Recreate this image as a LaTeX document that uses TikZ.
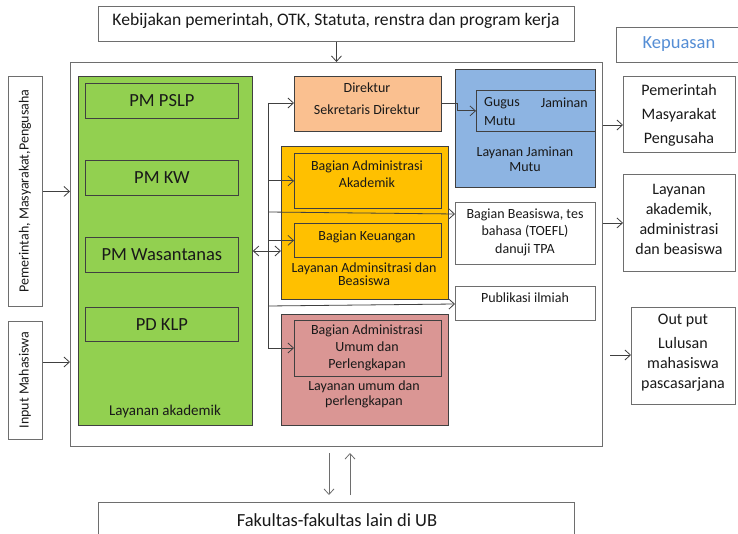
\documentclass[tikz,border=0pt]{standalone}
\usepackage{fontspec}
\setmainfont{Carlito}
\usetikzlibrary{arrows.meta}
\definecolor{cgreen}{RGB}{146,208,80}
\definecolor{cpeach}{RGB}{250,192,144}
\definecolor{cblue}{RGB}{141,180,226}
\definecolor{corange}{RGB}{255,192,0}
\definecolor{cpink}{RGB}{218,150,148}
\definecolor{ckep}{RGB}{85,142,213}
\definecolor{cline}{RGB}{64,64,64}
\definecolor{cgray}{RGB}{110,110,110}
\newcommand{\mybox}[6]{\node[bx,#6,minimum width={(#4-#2)*1pt},minimum height={(#5-#3)*1pt}] (#1) at (#2,#3) {};}
\begin{document}
\begin{tikzpicture}[x=1pt,y=-1pt,
  bx/.style={draw=cline, line width=0.8pt, inner sep=0pt, anchor=north west},
  obx/.style={draw=cgray, line width=0.9pt, inner sep=0pt, anchor=north west},
  txt/.style={inner sep=0pt, align=center, text=black!90},
  big/.style={font=\fontsize{18.5}{21}\selectfont},
  mid/.style={font=\fontsize{16}{24}\selectfont},
  sml/.style={font=\fontsize{14}{17}\selectfont},
  arr/.style={draw=cline, line width=0.8pt, -{Straight Barb[length=5.5pt,width=10pt]}},
  darr/.style={draw=cline, line width=0.8pt, {Straight Barb[length=5.5pt,width=10pt]}-{Straight Barb[length=5.5pt,width=10pt]}},
  ln/.style={draw=cline, line width=0.8pt}]
\useasboundingbox (0,0) rectangle (738,534);
\clip (0,0) rectangle (738,534);
\fill[white] (0,0) rectangle (738,534);

% top and bottom boxes
\mybox{kb}{98}{6}{574}{41}{obx}
\node[txt,font=\fontsize{17.6}{20}\selectfont] (tkb) at (336,21) {Kebijakan pemerintah, OTK, Statuta, renstra dan program kerja};
\mybox{main}{70}{62}{602}{446}{obx}
\mybox{kep}{616}{27}{745}{62}{obx}
\node[txt,big,text=ckep] (tkep) at (679,44) {Kepuasan};
\mybox{fb}{98}{502}{574}{545}{obx}
\node[txt,big] (tfb) at (337,520) {Fakultas-fakultas lain di UB};

% left input boxes
\mybox{lp}{8}{76}{42}{306}{obx}
\node[txt,sml,rotate=90] (tlp) at (25,191) {Pemerintah, Masyarakat,Pengusaha};
\mybox{lm}{8}{321}{42}{439}{obx}
\node[txt,sml,rotate=90] (tlm) at (25,380) {Input Mahasiswa};

% green block
\mybox{green}{78}{76}{252}{425}{bx,fill=cgreen}
\mybox{pslp}{85}{83}{238}{118}{bx}
\node[txt,big] (tpslp) at (pslp.center) {PM PSLP};
\mybox{kw}{85}{160}{238}{195}{bx}
\node[txt,big] (tkw) at (kw.center) {PM KW};
\mybox{was}{85}{237}{238}{272}{bx}
\node[txt,big] (twas) at (was.center) {PM Wasantanas};
\mybox{klp}{85}{307}{238}{341}{bx}
\node[txt,big] (tklp) at (klp.center) {PD KLP};
\node[txt,font=\fontsize{15}{18}\selectfont] (tgreen) at (165,411) {Layanan akademik};

% direktur
\mybox{dir}{294}{76}{441}{131}{bx,fill=cpeach}
\node[txt,font=\fontsize{14}{22}\selectfont] (tdir) at (367,99) {Direktur\\Sekretaris Direktur};

% blue block
\mybox{blue}{455}{69}{595}{187}{bx,fill=cblue}
\mybox{gugus}{476}{90}{595}{131}{bx}
\node[txt,sml,anchor=west] (tg1) at (484,103) {Gugus};
\node[txt,sml,anchor=east] (tg2) at (588,103) {Jaminan};
\node[txt,sml,anchor=west] (tg3) at (484,121) {Mutu};
\node[txt,font=\fontsize{14}{15}\selectfont] (tblue) at (525,159) {Layanan Jaminan\\Mutu};

% orange block
\mybox{orange}{281}{146}{448}{299}{bx,fill=corange}
\mybox{akad}{294}{153}{441}{208}{bx}
\node[txt,sml] (takad) at (367,174) {Bagian Administrasi\\Akademik};
\mybox{keu}{294}{223}{441}{257}{bx}
\node[txt,sml] (tkeu) at (367,237) {Bagian Keuangan};
\node[txt,font=\fontsize{14}{13.5}\selectfont] (torange) at (364,274) {Layanan Adminsitrasi dan\\Beasiswa};

% white middle boxes
\mybox{beas}{455}{202}{595}{264}{obx}
\node[txt,font=\fontsize{14}{17.5}\selectfont] (tbeas) at (525,232) {Bagian Beasiswa, tes\\bahasa (TOEFL)\\danuji TPA};
\mybox{pub}{455}{286}{595}{320}{obx}
\node[txt,sml] (tpub) at (525,298) {Publikasi ilmiah};

% pink block
\mybox{pink}{281}{314}{448}{425}{bx,fill=cpink}
\mybox{umum}{294}{320}{441}{376}{bx}
\node[txt,font=\fontsize{14}{17}\selectfont] (tumum) at (367,348) {Bagian Administrasi\\Umum dan\\Perlengkapan};
\node[txt,font=\fontsize{14}{15}\selectfont] (tpink) at (364,394) {Layanan umum dan\\perlengkapan};

% right output boxes
\mybox{rp1}{623}{76}{735}{152}{obx}
\node[txt,mid] (trp1) at (679,115) {Pemerintah\\Masyarakat\\Pengusaha};
\mybox{rp2}{623}{174}{735}{271}{obx}
\node[txt,font=\fontsize{16}{20}\selectfont] (trp2) at (679,219) {Layanan\\akademik,\\administrasi\\dan beasiswa};
\mybox{rp3}{631}{307}{735}{404}{obx}
\node[txt,font=\fontsize{16}{20}\selectfont] (trp3) at (683,353) {Out put\\[4pt]Lulusan\\mahasiswa\\pascasarjana};

% coordinates
\coordinate (bt) at (268,103);
\coordinate (bb) at (268,348);
\coordinate (o3) at (610,355);
\coordinate (d1) at (329,453);
\coordinate (d2) at (329,495);
\coordinate (u1) at (350,495);
\coordinate (u2) at (350,453);

% connectors
\draw[arr] (kb.south) -- (kb.south |- main.north);
\draw[arr] (lp.east) -- (lp.east -| main.west);
\draw[arr] (lm.east |- 0,362) -- (main.west |- 0,362);
\draw[ln] (bt) -- (bb);
\draw[arr] (bt) -- (bt -| dir.west);
\draw[arr] (akad.west -| bt) -- (akad.west);
\draw[arr] (bt |- 0,212) -- (beas.west |- 0,214);
\draw[arr] (keu.west -| bt) -- (keu.west);
\draw[darr] (green.east |- 0,251) -- (orange.west |- 0,251);
\draw[arr] (bt |- 0,306) -- (pub.west |- 0,304);
\draw[arr] (bb) -- (bb -| umum.west);
\draw[arr] (dir.east) -- ++(16,0) |- (gugus.west);
\draw[arr] (main.east |- 0,125) -- (rp1.west |- 0,125);
\draw[arr] (main.east |- rp2.west) -- (rp2.west);
\draw[arr] (o3) -- (o3 -| rp3.west);
\draw[arr,draw=cgray] (d1) -- (d2);
\draw[arr,draw=cgray] (u1) -- (u2);
\end{tikzpicture}
\end{document}
